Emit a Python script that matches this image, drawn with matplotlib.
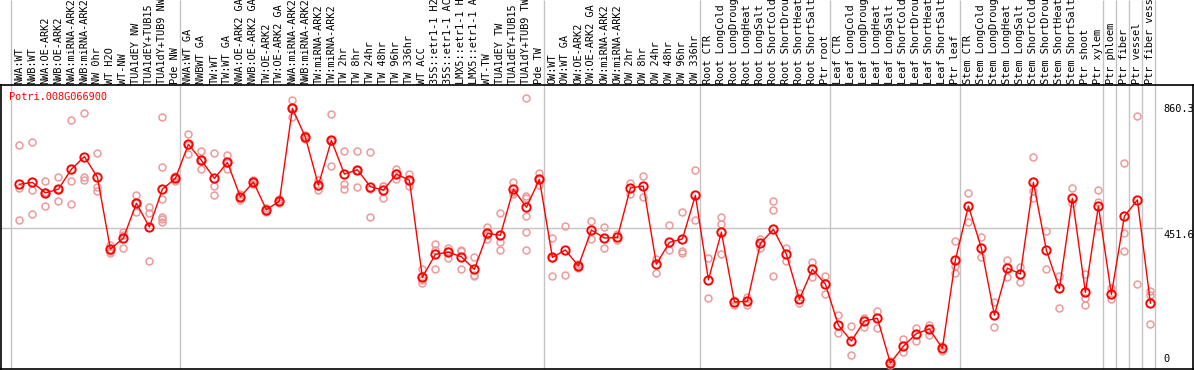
import matplotlib
matplotlib.use("Agg")
import matplotlib.pyplot as plt
import numpy as np

gene = "Potri.008G066900"

samples = [
    "NWA:WT", "NWB:WT", "NWA:OE-ARK2", "NWB:OE-ARK2", "NWA:miRNA-ARK2",
    "NWB:miRNA-ARK2", "NW 0hr", "WT H2O", "WT-NW", "TUA1dEY NW",
    "TUA1dEY+TUB15 NW", "TUA1dY+TUB9 NW", "Pde NW",
    "NWA:WT GA", "NWBWT GA", "TW:WT", "TW:WT GA", "NWA:OE-ARK2 GA",
    "NWB:OE-ARK2 GA", "TW:OE-ARK2", "TW:OE-ARK2 GA", "NWA:miRNA-ARK2",
    "NWB:miRNA-ARK2", "TW:miRNA-ARK2", "TW:miRNA-ARK2", "TW 2hr", "TW 8hr",
    "TW 24hr", "TW 48hr", "TW 96hr", "TW 336hr", "WT ACC",
    "35S::etr1-1 H2O", "35S::etr1-1 ACC", "LMX5::etr1-1 H2O",
    "LMX5::etr1-1 ACC", "WT-TW", "TUA1dEY TW", "TUA1dEY+TUB15 TW",
    "TUA1dY+TUB9 TW", "Pde TW",
    "OW:WT", "OW:WT GA", "OW:OE-ARK2", "OW:OE-ARK2 GA", "OW:miRNA-ARK2",
    "OW:miRNA-ARK2", "OW 2hr", "OW 8hr", "OW 24hr", "OW 48hr", "OW 96hr",
    "OW 336hr",
    "Root CTR", "Root LongCold", "Root LongDrought", "Root LongHeat",
    "Root LongSalt", "Root ShortCold", "Root ShortDrought", "Root ShortHeat",
    "Root ShortSalt", "Ptr root",
    "Leaf CTR", "Leaf LongCold", "Leaf LongDrought", "Leaf LongHeat",
    "Leaf LongSalt", "Leaf ShortCold", "Leaf ShortDrought", "Leaf ShortHeat",
    "Leaf ShortSalt", "Ptr leaf",
    "Stem CTR", "Stem LongCold", "Stem LongDrought", "Stem LongHeat",
    "Stem LongSalt", "Stem ShortCold", "Stem ShortDrought", "Stem ShortHeat",
    "Stem ShortSalt", "Ptr shoot", "Ptr xylem",
    "Ptr phloem", "Ptr fiber", "Ptr vessel", "Ptr fiber vessel",
]

group_sizes = [13, 28, 12, 10, 10, 11, 1, 1, 1, 1]

means = [
    595, 601, 567, 579, 644, 685, 618, 384, 420, 533, 456, 579, 614,
    725, 673, 614, 666, 554, 602, 512, 540, 842, 748, 592, 738, 628, 642,
    587, 576, 628, 608, 292, 367, 374, 359, 318, 435, 429, 579, 520, 611,
    357, 381, 329, 446, 420, 422, 583, 589, 335, 406, 417, 559,
    284, 439, 212, 214, 403, 448, 367, 221, 318, 270,
    136, 85, 150, 159, 13, 68, 109, 124, 61, 349,
    524, 387, 169, 322, 303, 601, 380, 256, 549, 243, 524,
    237, 491, 544, 208,
]

replicates = [
    [723, 584, 479], [732, 575, 497], [606, 570, 523], [618, 578, 541],
    [804, 606, 530], [826, 618, 610], [697, 587, 574], [397, 379, 372],
    [441, 429, 388], [560, 533, 506], [520, 500, 344],
    [813, 650, 547, 489, 481, 471], [606, 614, 622],
    [759, 724, 692], [702, 673, 644], [696, 588, 560], [690, 665, 644],
    [563, 554, 544], [596, 602, 608], [519, 512, 504], [547, 540, 535],
    [869, 843, 813], [741, 748, 755], [609, 589, 576], [823, 737, 654],
    [702, 597, 579], [702, 640, 585], [699, 579, 487], [590, 589, 549],
    [644, 630, 611], [627, 607, 589], [319, 285, 273], [401, 381, 319],
    [388, 377, 356], [381, 378, 319], [357, 300, 297], [457, 431, 418],
    [500, 406, 381], [603, 569, 562], [875, 558, 551, 492, 440, 381],
    [633, 611, 593],
    [421, 354, 296], [458, 299], [322, 329, 336], [475, 416], [455, 388],
    [432, 414], [600, 563], [622, 553], [353, 305], [461, 381],
    [504, 379, 370], [640, 479],
    [354, 224], [487, 465, 367], [218, 201], [229, 201], [418, 389],
    [540, 510, 296], [389, 344], [240, 208], [342, 292], [296, 238],
    [169, 110], [134, 39], [161, 130], [183, 126], [8, 13, 19], [91, 48],
    [128, 85], [136, 104], [69, 53], [410, 330, 307],
    [567, 473], [422, 358], [213, 130], [349, 292], [327, 276],
    [683, 574, 549], [443, 319], [296, 191], [582, 533], [303, 224, 201],
    [575, 538, 459],
    [256, 222], [665, 435, 377], [816, 270], [249, 235, 139],
]

axis_labels = [0, 451.6, 860.3]

# layout: pixel positions of the reference image mapped to data units
W, H = 1194, 370


def px_x(p):
    return (p - 19.4) / 13.0


def px_y(p):
    return (367.1 - p) * 3.254


def main():
    mono = "DejaVu Sans Mono"
    fig = plt.figure(figsize=(W / 100, H / 100), dpi=100)
    ax = fig.add_axes([0, 0, 1, 1])
    ax.set_xlim(px_x(0), px_x(W))
    ax.set_ylim(px_y(H), px_y(0))
    ax.axis("off")

    grey = "#c4c4c4"
    # group separators
    bounds = np.concatenate([[0], np.cumsum(group_sizes)]) - 0.62
    ax.vlines(bounds, px_y(369), px_y(0), color=grey, lw=1, zorder=1)
    # reference line
    ax.plot([px_x(1), px_x(1162)], [axis_labels[1], axis_labels[1]],
            color=grey, lw=1, zorder=1)

    # frame
    ax.plot([px_x(0), px_x(W)], [px_y(85), px_y(85)], color="black", lw=1.2)
    ax.plot([px_x(1.2), px_x(1.2)], [px_y(85), px_y(369.5)], color="black", lw=1.2)
    ax.plot([px_x(1193), px_x(1193)], [px_y(85), px_y(369.5)], color="black", lw=1.2)
    ax.plot([px_x(0), px_x(W)], [px_y(369.3), px_y(369.3)], color="black", lw=1.2)

    x = np.arange(len(samples))
    rx = np.concatenate([[i] * len(r) for i, r in enumerate(replicates)])
    ry = np.concatenate(replicates)
    ax.plot(rx, ry, "o", ms=5, mfc="none", mec="#ec9a9a", mew=1.1, zorder=3)
    ax.plot(x, means, "-", color="red", lw=1, zorder=4)
    ax.plot(x, means, "o", ms=6, mfc="none", mec="red", mew=1.4, zorder=5)

    for i, s in enumerate(samples):
        ax.text(i, px_y(83.5), s, rotation=90, ha="center", va="bottom",
                fontsize=7.4, family=mono, color="black")

    ax.text(px_x(9), px_y(97), gene, color="red", fontsize=7.4,
            family=mono, ha="left", va="center")

    for v in axis_labels:
        va = "bottom" if v == 0 else "top"
        ax.text(px_x(1163), v + (10 if v == 0 else -4), f"{v:g}",
                fontsize=7.4, family=mono, ha="left", va=va)

    fig.savefig("out.png", dpi=100)


if __name__ == "__main__":
    main()
